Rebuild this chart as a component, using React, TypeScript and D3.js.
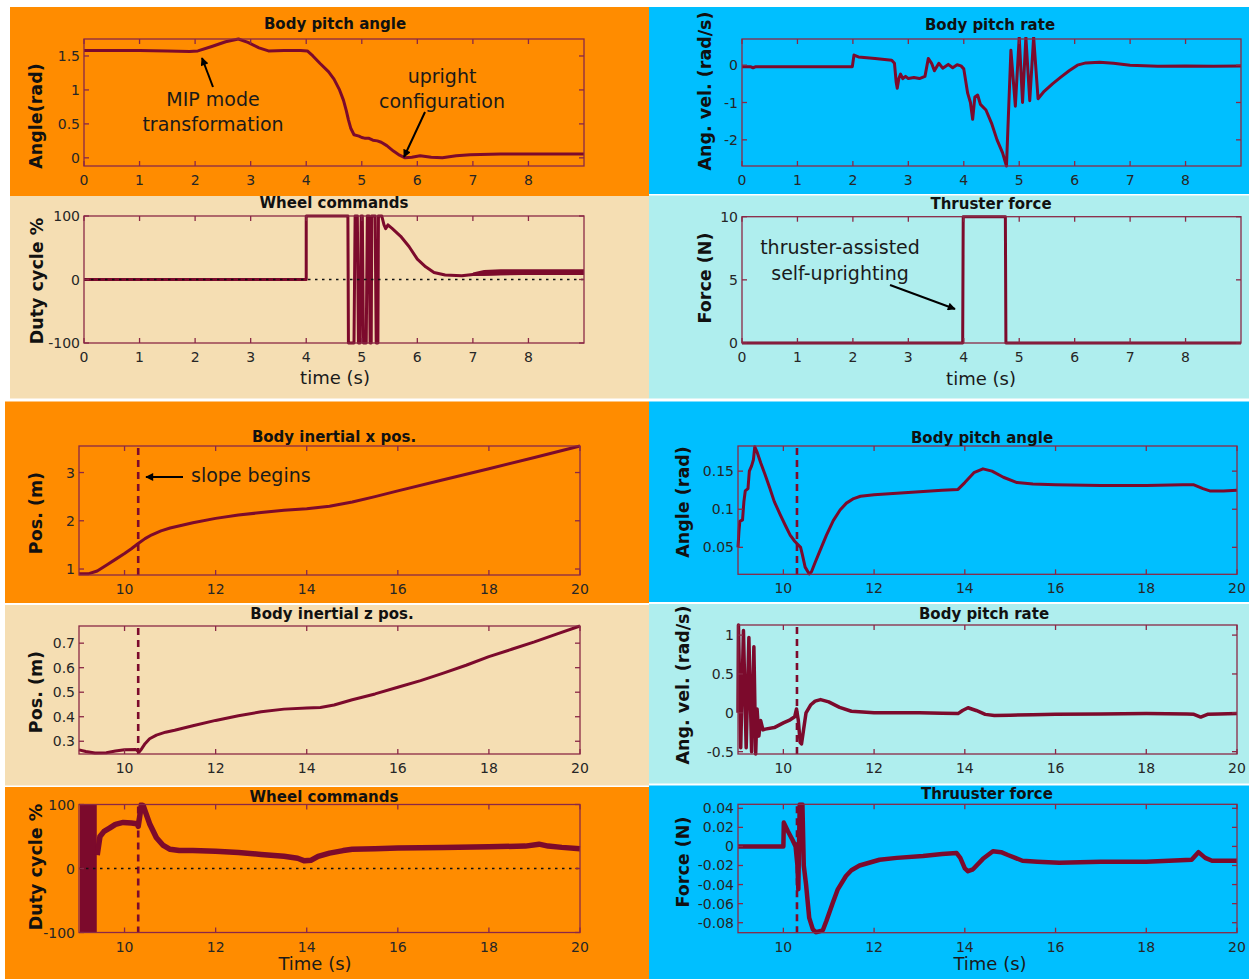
import React from 'react';
import * as d3 from 'd3';

type P = [number, number];
type B = [number, number, number];

// ---------------- DATA ----------------
const ticksTop: number[] = [0, 1, 2, 3, 4, 5, 6, 7, 8];
const ticksBottom: number[] = [10, 12, 14, 16, 18, 20];
const slopeStart = 10.3;

const pitchAngleA: P[] = [
  [0, 1.58], [0.5, 1.58], [1, 1.58], [1.5, 1.575], [1.9, 1.565], [2.05, 1.575], [2.3, 1.64], [2.55, 1.71],
  [2.78, 1.75], [2.95, 1.7], [3.15, 1.62], [3.32, 1.575], [3.6, 1.58], [3.9, 1.58], [4.02, 1.575], [4.12, 1.5],
  [4.25, 1.39], [4.4, 1.27], [4.5, 1.16], [4.6, 1.0], [4.67, 0.85], [4.72, 0.7], [4.76, 0.56], [4.8, 0.44],
  [4.86, 0.34], [4.95, 0.32], [5.0, 0.3], [5.05, 0.29], [5.12, 0.29], [5.2, 0.26], [5.28, 0.25], [5.35, 0.23],
  [5.45, 0.18], [5.57, 0.1], [5.68, 0.04], [5.78, 0.0], [5.9, 0.01], [6.05, 0.03], [6.25, 0.01], [6.45, 0.0],
  [6.7, 0.03], [6.95, 0.045], [7.5, 0.055], [8, 0.055], [8.5, 0.055], [9, 0.055],
];
const wheelA: P[] = [
  [0, 0], [4.0, 0], [4.0, 100], [4.75, 100], [4.76, -100], [4.86, -100], [4.88, 100], [4.92, 100], [4.94, -100],
  [4.97, -100], [4.99, 100], [5.01, 100], [5.03, -100], [5.08, -100], [5.1, 100], [5.13, 100], [5.15, -100],
  [5.17, -100], [5.18, 100], [5.24, 100], [5.26, -100], [5.29, -100], [5.3, 100], [5.36, 100], [5.4, 86],
  [5.43, 80], [5.47, 86], [5.55, 80], [5.7, 68], [5.85, 52], [6.0, 32], [6.15, 20], [6.3, 11], [6.5, 7],
  [6.8, 6], [7.0, 8], [9, 11],
];
const wheelABand: B[] = [
  [7.0, 6, 11], [7.2, 6, 15], [7.5, 7, 16], [8, 7, 16], [8.5, 7, 16], [9, 7, 16],
];
const pitchRateA: P[] = [
  [0, -0.04], [0.15, -0.04], [0.2, -0.07], [0.25, -0.04], [1, -0.04], [1.99, -0.04], [2.02, 0.27], [2.1, 0.22],
  [2.4, 0.18], [2.7, 0.13], [2.75, 0.05], [2.78, -0.45], [2.8, -0.62], [2.83, -0.35], [2.86, -0.24], [2.9, -0.36],
  [2.95, -0.3], [3.0, -0.36], [3.1, -0.33], [3.2, -0.36], [3.3, -0.3], [3.36, 0.18], [3.42, 0.05], [3.47, -0.15],
  [3.55, 0.05], [3.62, -0.08], [3.72, 0.02], [3.8, -0.07], [3.88, 0.01], [3.95, -0.02], [4.0, -0.1], [4.07, -0.75],
  [4.12, -1.0], [4.16, -1.45], [4.2, -0.85], [4.25, -0.8], [4.3, -1.05], [4.4, -1.2], [4.5, -1.55], [4.6, -2.0],
  [4.7, -2.35], [4.77, -2.7], [4.85, 0.4], [4.93, -1.1], [5.0, 0.75], [5.06, -1.0], [5.12, 0.75], [5.19, -0.95],
  [5.26, 0.75], [5.34, -0.9], [5.45, -0.7], [5.6, -0.5], [5.75, -0.32], [5.9, -0.15], [6.05, 0.0], [6.2, 0.06],
  [6.45, 0.08], [6.7, 0.05], [7.0, 0.0], [7.5, -0.03], [8.0, -0.02], [8.5, -0.03], [9, -0.02],
];
const thrustA: P[] = [[0, 0], [3.98, 0], [3.99, 10], [4.75, 10], [4.76, 0], [9, 0]];

const xPos: P[] = [
  [9, 0.9], [9.2, 0.9], [9.4, 0.96], [9.6, 1.08], [9.8, 1.2], [10, 1.32], [10.15, 1.42], [10.3, 1.53],
  [10.45, 1.63], [10.6, 1.71], [10.8, 1.79], [11, 1.85], [11.5, 1.96], [12, 2.05], [12.5, 2.12], [13, 2.17],
  [13.5, 2.22], [14, 2.25], [14.5, 2.3], [15, 2.39], [15.5, 2.5], [16, 2.62], [17, 2.85], [18, 3.08],
  [19, 3.31], [20, 3.55],
];
const pitchAngleB: P[] = [
  [9, 0.05], [9.02, 0.07], [9.04, 0.084], [9.1, 0.086], [9.13, 0.11], [9.16, 0.124], [9.22, 0.127], [9.25, 0.15],
  [9.3, 0.157], [9.34, 0.165], [9.37, 0.182], [9.42, 0.175], [9.5, 0.161], [9.6, 0.145], [9.7, 0.128], [9.8, 0.11],
  [9.93, 0.093], [10.05, 0.078], [10.15, 0.066], [10.25, 0.058], [10.33, 0.053], [10.38, 0.05], [10.42, 0.04],
  [10.48, 0.024], [10.57, 0.015], [10.62, 0.018], [10.7, 0.03], [10.81, 0.046], [10.95, 0.066], [11.1, 0.085],
  [11.25, 0.099], [11.39, 0.108], [11.55, 0.114], [11.7, 0.117], [12, 0.119], [12.5, 0.121], [13, 0.123],
  [13.5, 0.125], [13.85, 0.126], [14.0, 0.135], [14.2, 0.148], [14.4, 0.153], [14.6, 0.15], [14.85, 0.142],
  [15.15, 0.135], [15.5, 0.133], [16, 0.132], [17, 0.131], [18, 0.131], [18.8, 0.132], [19.05, 0.132],
  [19.25, 0.127], [19.4, 0.124], [19.7, 0.124], [20, 0.125],
];
const zPos: P[] = [
  [9, 0.265], [9.15, 0.258], [9.35, 0.252], [9.6, 0.253], [9.8, 0.26], [10, 0.265], [10.25, 0.266], [10.32, 0.256],
  [10.36, 0.265], [10.45, 0.29], [10.55, 0.31], [10.7, 0.325], [10.9, 0.337], [11.1, 0.345], [11.5, 0.363],
  [12, 0.385], [12.5, 0.404], [13, 0.42], [13.5, 0.431], [14, 0.436], [14.3, 0.438], [14.6, 0.448], [15, 0.469],
  [15.5, 0.493], [16, 0.52], [16.5, 0.547], [17, 0.578], [17.5, 0.61], [18, 0.645], [18.5, 0.675], [19, 0.705],
  [19.5, 0.738], [20, 0.77],
];
const pitchRateB: P[] = [
  [9, 0.0], [9.01, 1.13], [9.06, -0.45], [9.12, 1.06], [9.18, -0.45], [9.24, 0.97], [9.3, -0.5], [9.35, 0.85],
  [9.39, -0.53], [9.42, 0.05], [9.46, -0.3], [9.5, -0.1], [9.55, -0.22], [9.6, -0.21], [9.8, -0.19], [10, -0.13],
  [10.15, -0.09], [10.25, -0.05], [10.29, 0.05], [10.33, -0.1], [10.37, -0.38], [10.4, -0.4], [10.45, -0.2],
  [10.5, 0.0], [10.6, 0.1], [10.7, 0.15], [10.82, 0.17], [11, 0.14], [11.24, 0.07], [11.5, 0.02], [12, 0.0],
  [12.5, 0.0], [13, 0.0], [13.5, -0.005], [13.85, -0.01], [13.95, 0.03], [14.07, 0.065], [14.25, 0.03],
  [14.45, -0.02], [14.65, -0.035], [15, -0.03], [15.5, -0.025], [16, -0.02], [17, -0.015], [18, -0.01],
  [18.9, -0.015], [19.05, -0.02], [19.2, -0.055], [19.35, -0.02], [19.6, -0.015], [20, -0.01],
];
const wheelB: P[] = [
  [9.4, 21], [9.46, 50], [9.55, 58], [9.67, 63], [9.8, 69], [9.97, 72], [10.15, 71], [10.27, 70], [10.3, 66],
  [10.33, 80], [10.37, 100], [10.41, 98], [10.46, 88], [10.55, 70], [10.7, 48], [10.85, 36], [11, 30],
  [11.2, 28], [11.5, 28], [12, 27], [12.5, 25], [13, 22], [13.5, 19], [13.8, 16], [13.95, 12], [14.1, 13],
  [14.25, 19], [14.5, 24], [14.8, 28], [15, 30], [15.5, 31], [16, 32], [17, 33], [18, 34], [18.8, 35],
  [19.1, 38], [19.3, 35], [19.6, 33], [20, 31],
];
const wheelBBand: B[] = [[9.02, -100, 100], [9.39, -100, 100]];
const thrustB: P[] = [
  [9, 0], [10.0, 0], [10.01, 0.025], [10.1, 0.016], [10.2, 0.007], [10.27, 0.0], [10.31, -0.02], [10.33, -0.045],
  [10.36, 0.044], [10.42, 0.044], [10.45, -0.02], [10.5, -0.04], [10.57, -0.075], [10.65, -0.087], [10.72, -0.09],
  [10.87, -0.088], [10.95, -0.078], [11.09, -0.059], [11.2, -0.045], [11.38, -0.031], [11.5, -0.025],
  [11.68, -0.02], [12.12, -0.014], [12.5, -0.012], [13.08, -0.01], [13.5, -0.008], [13.82, -0.007], [13.9, -0.012],
  [14.0, -0.023], [14.07, -0.026], [14.18, -0.024], [14.4, -0.013], [14.62, -0.005], [14.8, -0.006],
  [14.95, -0.009], [15.27, -0.015], [15.6, -0.016], [16.08, -0.017], [17, -0.016], [18, -0.016], [19, -0.014],
  [19.15, -0.006], [19.3, -0.012], [19.45, -0.015], [20, -0.015],
];

// ---------------- STYLE / LAYOUT ----------------
const LINE = '#7c0a2c';
const BOX = '#8a2846';
const FONT = "'DejaVu Sans', Verdana, sans-serif";
const ORANGE = '#FF8C00';
const WHEAT = '#F5DEB3';
const BLUE = '#00BFFF';
const CYAN = '#AFEEEE';

const backgrounds = [
  { x: 10, y: 7, x2: 649, y2: 196, fill: ORANGE },
  { x: 10, y: 196, x2: 649, y2: 398.5, fill: WHEAT },
  { x: 5, y: 401.5, x2: 649, y2: 603, fill: ORANGE },
  { x: 5, y: 605, x2: 649, y2: 785.5, fill: WHEAT },
  { x: 5, y: 787, x2: 649, y2: 979, fill: ORANGE },
  { x: 649, y: 7, x2: 1249, y2: 194, fill: BLUE },
  { x: 649, y: 195.5, x2: 1249, y2: 398.5, fill: CYAN },
  { x: 649, y: 401.5, x2: 1249, y2: 602, fill: BLUE },
  { x: 649, y: 604, x2: 1249, y2: 783.5, fill: CYAN },
  { x: 649, y: 785.5, x2: 1249, y2: 979, fill: BLUE },
];

interface Cfg {
  id: string;
  plot: { l: number; r: number; t: number; b: number };
  xDom: [number, number];
  yDom: [number, number];
  xTicks: number[];
  yTicks: number[];
  title: string; titleX: number; titleY: number;
  ylabel: string; ylabelX: number; ylabelY: number;
  xlabel?: string; xlabelX?: number; xlabelY?: number;
  series: P[]; lw: number;
  band?: B[];
  zero?: boolean;
  dash?: number;
}

const panels: Cfg[] = [
  {
    id: 'p1', plot: { l: 84, r: 584, t: 39, b: 166 }, xDom: [0, 9], yDom: [-0.12, 1.75],
    xTicks: ticksTop, yTicks: [0, 0.5, 1, 1.5],
    title: 'Body pitch angle', titleX: 335, titleY: 29,
    ylabel: 'Angle(rad)', ylabelX: 36, ylabelY: 116, series: pitchAngleA, lw: 3,
  },
  {
    id: 'p2', plot: { l: 84, r: 584, t: 216, b: 343 }, xDom: [0, 9], yDom: [-100, 100],
    xTicks: ticksTop, yTicks: [-100, 0, 100],
    title: 'Wheel commands', titleX: 334, titleY: 208,
    ylabel: 'Duty cycle %', ylabelX: 37, ylabelY: 281,
    xlabel: 'time (s)', xlabelX: 335, xlabelY: 384,
    series: wheelA, lw: 3, band: wheelABand, zero: true,
  },
  {
    id: 'p3', plot: { l: 742, r: 1241, t: 39, b: 166 }, xDom: [0, 9], yDom: [-2.7, 0.7],
    xTicks: ticksTop, yTicks: [-2, -1, 0],
    title: 'Body pitch rate', titleX: 990, titleY: 29.5,
    ylabel: 'Ang. vel. (rad/s)', ylabelX: 705, ylabelY: 91, series: pitchRateA, lw: 3,
  },
  {
    id: 'p4', plot: { l: 742, r: 1241, t: 216.7, b: 343 }, xDom: [0, 9], yDom: [0, 10],
    xTicks: ticksTop, yTicks: [0, 5, 10],
    title: 'Thruster force', titleX: 991, titleY: 209,
    ylabel: 'Force (N)', ylabelX: 705, ylabelY: 278,
    xlabel: 'time (s)', xlabelX: 981, xlabelY: 385, series: thrustA, lw: 3,
  },
  {
    id: 'p5', plot: { l: 79, r: 580, t: 446, b: 575 }, xDom: [9, 20], yDom: [0.876, 3.55],
    xTicks: ticksBottom, yTicks: [1, 2, 3],
    title: 'Body inertial x pos.', titleX: 334, titleY: 441.5,
    ylabel: 'Pos. (m)', ylabelX: 36, ylabelY: 513, series: xPos, lw: 3, dash: slopeStart,
  },
  {
    id: 'p6', plot: { l: 738, r: 1237, t: 446, b: 574.3 }, xDom: [9, 20], yDom: [0.0146, 0.183],
    xTicks: ticksBottom, yTicks: [0.05, 0.1, 0.15],
    title: 'Body pitch angle', titleX: 982, titleY: 443,
    ylabel: 'Angle (rad)', ylabelX: 683, ylabelY: 502, series: pitchAngleB, lw: 3, dash: slopeStart,
  },
  {
    id: 'p7', plot: { l: 79, r: 580, t: 626, b: 754 }, xDom: [9, 20], yDom: [0.248, 0.77],
    xTicks: ticksBottom, yTicks: [0.3, 0.4, 0.5, 0.6, 0.7],
    title: 'Body inertial z pos.', titleX: 332, titleY: 619,
    ylabel: 'Pos. (m)', ylabelX: 36, ylabelY: 692, series: zPos, lw: 3, dash: slopeStart,
  },
  {
    id: 'p8', plot: { l: 738, r: 1237, t: 625, b: 754 }, xDom: [9, 20], yDom: [-0.53, 1.13],
    xTicks: ticksBottom, yTicks: [-0.5, 0, 0.5, 1],
    title: 'Body pitch rate', titleX: 984, titleY: 619,
    ylabel: 'Ang. vel. (rad/s)', ylabelX: 683, ylabelY: 685, series: pitchRateB, lw: 3.5, dash: slopeStart,
  },
  {
    id: 'p9', plot: { l: 79, r: 580, t: 804.5, b: 932.5 }, xDom: [9, 20], yDom: [-100, 100],
    xTicks: ticksBottom, yTicks: [-100, 0, 100],
    title: 'Wheel commands', titleX: 324, titleY: 802,
    ylabel: 'Duty cycle %', ylabelX: 36, ylabelY: 867,
    xlabel: 'Time (s)', xlabelX: 315, xlabelY: 970,
    series: wheelB, lw: 5.5, band: wheelBBand, zero: true, dash: slopeStart,
  },
  {
    id: 'p10', plot: { l: 738, r: 1237, t: 804.3, b: 932.7 }, xDom: [9, 20], yDom: [-0.0905, 0.0442],
    xTicks: ticksBottom, yTicks: [-0.08, -0.06, -0.04, -0.02, 0, 0.02, 0.04],
    title: 'Thruuster force', titleX: 987, titleY: 799,
    ylabel: 'Force (N)', ylabelX: 683, ylabelY: 862,
    xlabel: 'Time (s)', xlabelX: 990, xlabelY: 970,
    series: thrustB, lw: 4.5, dash: slopeStart,
  },
];

function Panel({ c }: { c: Cfg }) {
  const { l, r, t, b } = c.plot;
  const x = d3.scaleLinear().domain(c.xDom).range([l, r]);
  const y = d3.scaleLinear().domain(c.yDom).range([b, t]);
  const line = d3.line<P>().x((d) => x(d[0])).y((d) => y(d[1]));
  const area = d3.area<B>().x((d) => x(d[0])).y0((d) => y(d[1])).y1((d) => y(d[2]));
  const clipId = 'clip-' + c.id;
  const tl = 5;
  return (
    <g>
      <defs>
        <clipPath id={clipId}>
          <rect x={l - 2} y={t - 2} width={r - l + 4} height={b - t + 4} />
        </clipPath>
      </defs>
      {c.dash !== undefined && (
        <line x1={x(c.dash)} x2={x(c.dash)} y1={t + 2} y2={b} stroke={LINE} strokeWidth={2.6} strokeDasharray="7 5" />
      )}
      <g clipPath={`url(#${clipId})`}>
        {c.band && <path d={area(c.band) || ''} fill={LINE} />}
        <path d={line(c.series) || ''} fill="none" stroke={LINE} strokeWidth={c.lw} strokeLinejoin="round" />
      </g>
      {c.zero && (
        <line x1={l} x2={r} y1={y(0)} y2={y(0)} stroke="#111" strokeWidth={1.6} strokeDasharray="2.5 4.5" />
      )}
      <rect x={l} y={t} width={r - l} height={b - t} fill="none" stroke={BOX} strokeWidth={1.3} />
      {c.xTicks.map((v) => (
        <g key={'x' + v}>
          <line x1={x(v)} x2={x(v)} y1={b} y2={b - tl} stroke={BOX} strokeWidth={1.3} />
          <line x1={x(v)} x2={x(v)} y1={t} y2={t + tl} stroke={BOX} strokeWidth={1.3} />
          <text x={x(v)} y={b + 14} textAnchor="middle" dominantBaseline="central" fontSize={14} fill="#262626" fontFamily={FONT}>
            {String(v)}
          </text>
        </g>
      ))}
      {c.yTicks.map((v) => (
        <g key={'y' + v}>
          <line x1={l} x2={l + tl} y1={y(v)} y2={y(v)} stroke={BOX} strokeWidth={1.3} />
          <line x1={r} x2={r - tl} y1={y(v)} y2={y(v)} stroke={BOX} strokeWidth={1.3} />
          <text x={l - 4} y={y(v)} textAnchor="end" dominantBaseline="central" fontSize={14} fill="#262626" fontFamily={FONT}>
            {String(v)}
          </text>
        </g>
      ))}
      <text x={c.titleX} y={c.titleY} textAnchor="middle" fontSize={15} fontWeight="bold" fill="#111" fontFamily={FONT}>
        {c.title}
      </text>
      <text
        x={c.ylabelX}
        y={c.ylabelY}
        textAnchor="middle"
        dominantBaseline="central"
        fontSize={17.5}
        fontWeight="bold"
        fill="#111"
        fontFamily={FONT}
        transform={`rotate(-90, ${c.ylabelX}, ${c.ylabelY})`}
      >
        {c.ylabel}
      </text>
      {c.xlabel && (
        <text x={c.xlabelX} y={c.xlabelY} textAnchor="middle" fontSize={18} fill="#1a1a1a" fontFamily={FONT}>
          {c.xlabel}
        </text>
      )}
    </g>
  );
}

const annotations = [
  { lines: ['MIP mode', 'transformation'], x: 213, y: 106, dy: 25 },
  { lines: ['upright', 'configuration'], x: 442, y: 83, dy: 25 },
  { lines: ['thruster-assisted', 'self-uprighting'], x: 840, y: 254, dy: 25.5 },
];
const arrows = [
  { x1: 213, y1: 87, x2: 202, y2: 58 },
  { x1: 425, y1: 112, x2: 404, y2: 157 },
  { x1: 183, y1: 477, x2: 146, y2: 477 },
  { x1: 890, y1: 285, x2: 955, y2: 309 },
];

export default function App() {
  return (
    <svg
      width={1251}
      height={979}
      style={{ position: 'absolute', left: 0, top: 0, display: 'block', background: '#fff' }}
    >
      <defs>
        <marker id="ah" viewBox="0 0 10 10" refX="9" refY="5" markerWidth="10" markerHeight="8" markerUnits="userSpaceOnUse" orient="auto">
          <path d="M0,0 L10,5 L0,10 z" fill="#000" />
        </marker>
      </defs>
      {backgrounds.map((bg, i) => (
        <rect key={i} x={bg.x} y={bg.y} width={bg.x2 - bg.x} height={bg.y2 - bg.y} fill={bg.fill} />
      ))}
      {panels.map((c) => (
        <Panel key={c.id} c={c} />
      ))}
      {annotations.map((a, i) => (
        <text key={i} x={a.x} y={a.y} textAnchor="middle" fontSize={19} fill="#1a1a1a" fontFamily={FONT}>
          {a.lines.map((s, j) => (
            <tspan key={j} x={a.x} dy={j === 0 ? 0 : a.dy}>
              {s}
            </tspan>
          ))}
        </text>
      ))}
      <text x={191} y={482} fontSize={19} fill="#1a1a1a" fontFamily={FONT}>
        slope begins
      </text>
      {arrows.map((a, i) => (
        <line key={i} x1={a.x1} y1={a.y1} x2={a.x2} y2={a.y2} stroke="#000" strokeWidth={2} markerEnd="url(#ah)" />
      ))}
    </svg>
  );
}
